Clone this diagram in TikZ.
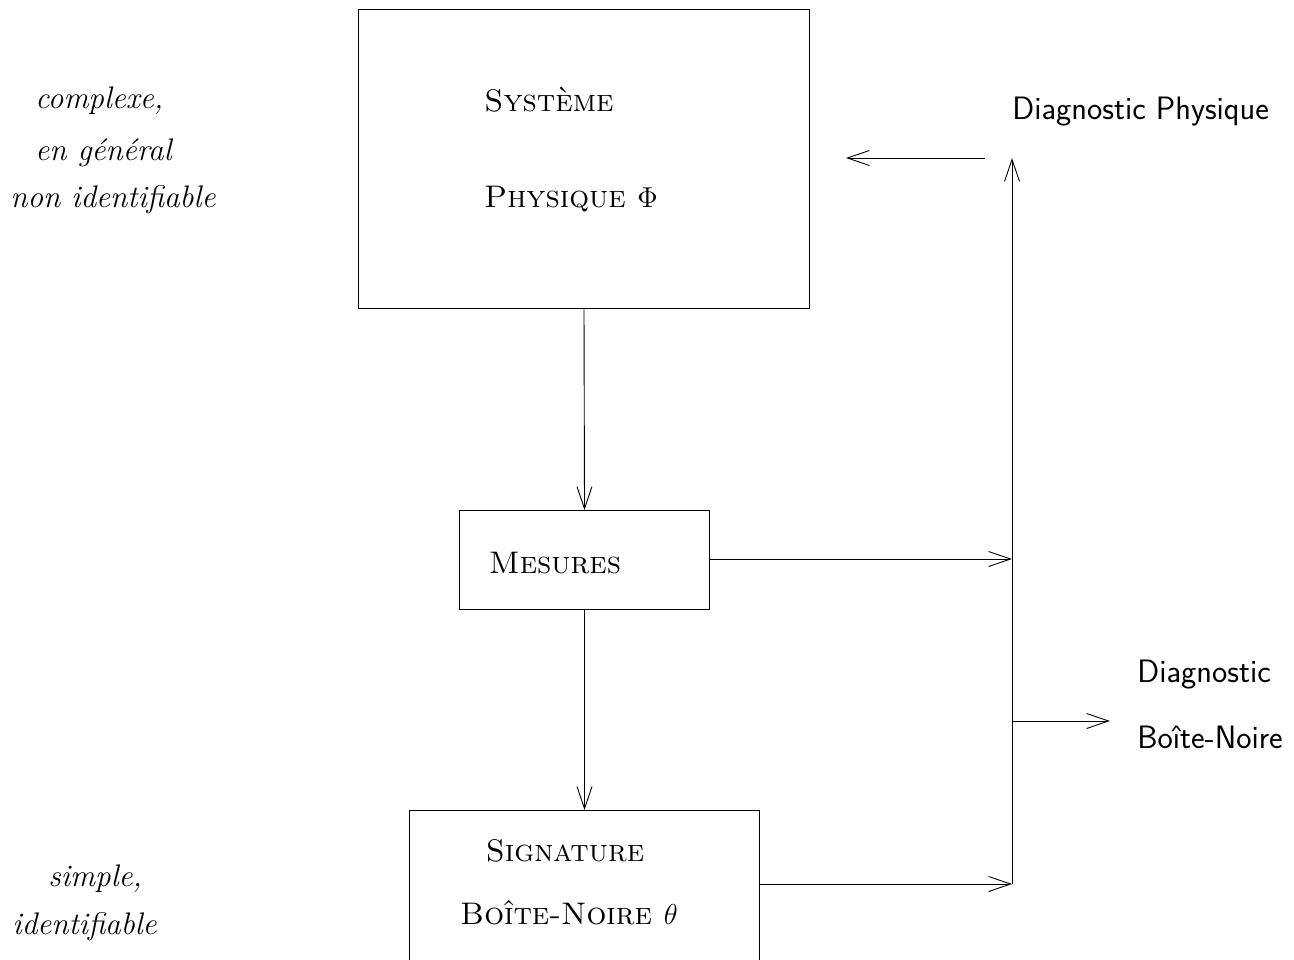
\documentclass[tikz,border=0pt]{standalone}
\usetikzlibrary{arrows.meta}
\begin{document}
\begin{tikzpicture}[x=0.5pt,y=-0.5pt,
  every node/.style={font=\fontsize{15.6}{18}\selectfont, inner sep=0pt},
  boxnode/.style={draw, line width=0.5pt, rectangle, anchor=north west, inner sep=0pt},
  conn/.style={line width=0.45pt, -{Straight Barb[length=11pt,width=7.5pt,line width=0.45pt]}},
  sc/.style={font=\fontsize{15.6}{18}\selectfont\scshape},
  it/.style={font=\fontsize{15.6}{18}\selectfont\itshape},
  sf/.style={font=\fontsize{16.2}{19}\selectfont\sffamily}]
\useasboundingbox (0,0) rectangle (1294,959);
\clip (0,0) rectangle (1294,959);
% boxes
\node[boxnode, minimum width=225.5pt, minimum height=149.5pt] (sys) at (358,9) {};
\node[boxnode, minimum width=125pt, minimum height=49.5pt] (mes) at (459,510) {};
\node[boxnode, minimum width=175pt, minimum height=100pt] (sig) at (409,810) {};
% box texts
\node[sc] (t1) at (549,100) {Système};
\node[sc] (t2) at (571,199) {Physique $\Phi$};
\node[sc] (t3) at (555,563) {Mesures};
\node[sc] (t4) at (565,851) {Signature};
\node[sc] (t5) at (569,913) {Boîte-Noire $\theta$};
% left texts
\node[it, anchor=west] (l1) at (35,101) {complexe,};
\node[it, anchor=west] (l2) at (35,153) {en général};
\node[it, anchor=west] (l3) at (10,200) {non identifiable};
\node[it, anchor=west] (l4) at (48,879) {simple,};
\node[it, anchor=west] (l5) at (12,927) {identifiable};
% right texts
\node[sf, anchor=west] (r1) at (1012,112) {Diagnostic Physique};
\node[sf, anchor=west] (r2) at (1137,675) {Diagnostic};
\node[sf, anchor=west] (r3) at (1137,737) {Boîte-Noire};
% coordinates
\coordinate (jm) at (1012,559);
\coordinate (js) at (1012,884);
\coordinate (jt) at (1012,158);
\coordinate (jb) at (1012,721);
\coordinate (bo) at (1110,721);
\coordinate (fa) at (985,158);
\coordinate (fb) at (846,158);
% connectors
\draw[conn] (sys.south) -- (mes.north);
\draw[conn] (mes.south) -- (sig.north);
\draw[conn] (mes.east |- jm) -- (jm);
\draw[conn] (sig.east |- js) -- (js);
\draw[conn] (js) -- (jt);
\draw[conn] (jb) -- (bo);
\draw[conn] (fa) -- (fb);
\end{tikzpicture}
\end{document}
